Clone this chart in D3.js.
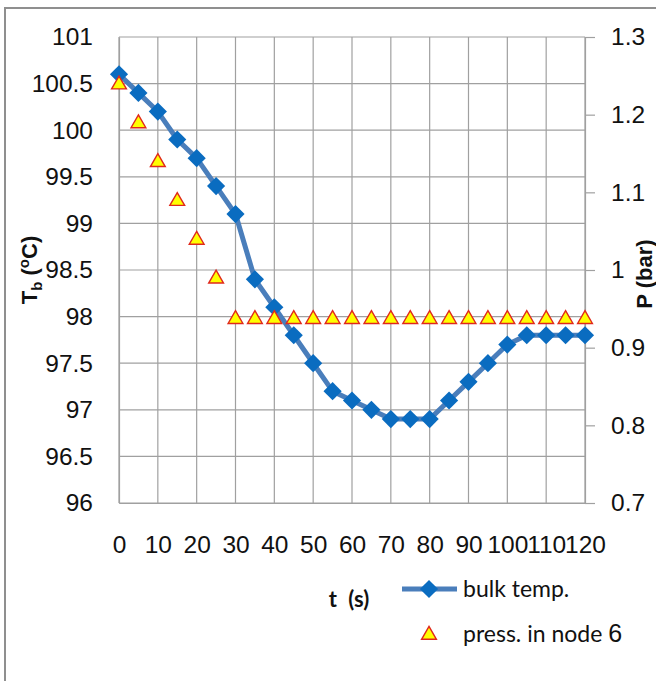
<!DOCTYPE html>
<html>
<head>
<meta charset="utf-8">
<script src="https://cdn.jsdelivr.net/npm/d3@7/dist/d3.min.js"></script>
<style>
  html, body { margin: 0; padding: 0; background: #fff; }
  svg { display: block; }
</style>
</head>
<body>
<svg id="chart" width="656" height="681"></svg>
<script>
// ---- data ----
const timeS = [0,5,10,15,20,25,30,35,40,45,50,55,60,65,70,75,80,85,90,95,100,105,110,115,120];
const bulkTemp = [100.6,100.4,100.2,99.9,99.7,99.4,99.1,98.4,98.1,97.8,97.5,97.2,97.1,97.0,96.9,96.9,96.9,97.1,97.3,97.5,97.7,97.8,97.8,97.8,97.8];
const pressNode6 = [1.24,1.19,1.14,1.09,1.04,0.99,0.938,0.938,0.938,0.938,0.938,0.938,0.938,0.938,0.938,0.938,0.938,0.938,0.938,0.938,0.938,0.938,0.938,0.938,0.938];
const xTicks = [0,10,20,30,40,50,60,70,80,90,100,110,120];
const leftTicks = [96,96.5,97,97.5,98,98.5,99,99.5,100,100.5,101];
const rightTicks = [0.7,0.8,0.9,1.0,1.1,1.2,1.3];
const seriesNames = ["bulk temp.", "press. in node 6"];

// ---- layout ----
const svg = d3.select("#chart");
const L = 119, R = 585, T = 37, B = 503;
const x = d3.scaleLinear().domain([0,120]).range([L,R]);
const yL = d3.scaleLinear().domain([96,101]).range([B,T]);
const yR = d3.scaleLinear().domain([0.7,1.3]).range([B,T]);

const gridColor = "#a0a0a0";
const lineColor = "#4a7ebb";
const markColor = "#0a6cc0";
const numFont = "'Liberation Sans', Arial, sans-serif";
const lblFont = "Lato, 'Open Sans', sans-serif";

// outer border
svg.append("rect").attr("x",5).attr("y",8).attr("width",700).attr("height",700)
  .attr("fill","none").attr("stroke","#8f8f8f").attr("stroke-width",2);

// gridlines
const grid = svg.append("g");
grid.selectAll("line.h").data(leftTicks).join("line")
  .attr("x1",L).attr("x2",R).attr("y1",d=>yL(d)).attr("y2",d=>yL(d))
  .attr("stroke",gridColor).attr("stroke-width",1.2);
grid.selectAll("line.v").data(xTicks).join("line")
  .attr("y1",T).attr("y2",B).attr("x1",d=>x(d)).attr("x2",d=>x(d))
  .attr("stroke",gridColor).attr("stroke-width",1.2);

// right axis with outward ticks
const rightAxis = d3.axisRight(yR).tickValues(rightTicks).tickSize(10).tickPadding(16)
  .tickFormat(d3.format("~g"));
const gR = svg.append("g").attr("transform",`translate(${R},0)`).call(rightAxis);
gR.select(".domain").attr("stroke",gridColor).attr("stroke-width",1.2);
gR.selectAll(".tick line").attr("stroke",gridColor).attr("stroke-width",1.2);
gR.selectAll(".tick text").attr("font-family",numFont).attr("font-size",24.5).attr("fill","#111");

// left axis labels
const leftAxis = d3.axisLeft(yL).tickValues(leftTicks).tickSize(0).tickPadding(26)
  .tickFormat(d3.format("~g"));
const gL = svg.append("g").attr("transform",`translate(${L},0)`).call(leftAxis);
gL.select(".domain").attr("stroke",gridColor).attr("stroke-width",1.2);
gL.selectAll(".tick text").attr("font-family",numFont).attr("font-size",24.5).attr("fill","#111");

// bottom axis labels
const bottomAxis = d3.axisBottom(x).tickValues(xTicks).tickSize(0).tickPadding(33)
  .tickFormat(d3.format("d"));
const gB = svg.append("g").attr("transform",`translate(0,${B})`).call(bottomAxis);
gB.select(".domain").attr("stroke",gridColor).attr("stroke-width",1.2);
gB.selectAll(".tick text").attr("font-family",numFont).attr("font-size",24.5).attr("fill","#111");

// bulk temp line
const data1 = timeS.map((t,i)=>({t, v:bulkTemp[i]}));
const data2 = timeS.map((t,i)=>({t, v:pressNode6[i]}));
svg.append("path").datum(data1)
  .attr("d", d3.line().x(d=>x(d.t)).y(d=>yL(d.v)))
  .attr("fill","none").attr("stroke",lineColor).attr("stroke-width",5)
  .attr("stroke-linejoin","round");

const diamond = d3.symbol().type(d3.symbolSquare).size(165);
svg.append("g").selectAll("path").data(data1).join("path")
  .attr("d", diamond)
  .attr("transform", d=>`translate(${x(d.t)},${yL(d.v)}) rotate(45)`)
  .attr("fill",markColor);

const tri = d3.symbol().type(d3.symbolTriangle).size(95);
svg.append("g").selectAll("path").data(data2).join("path")
  .attr("d", tri)
  .attr("transform", d=>`translate(${x(d.t)},${yR(d.v)+1})`)
  .attr("fill","#ffff00").attr("stroke","#e0281c").attr("stroke-width",1.4);

// axis titles
const tTitle = svg.append("text")
  .attr("transform","translate(37,270) rotate(-90)")
  .attr("text-anchor","middle")
  .attr("font-family",numFont).attr("font-weight","bold").attr("font-size",22).attr("fill","#111");
tTitle.append("tspan").text("T");
tTitle.append("tspan").attr("font-size",15).attr("dy",5).text("b");
tTitle.append("tspan").attr("dy",-5).text(" (");
tTitle.append("tspan").attr("font-size",15).attr("dy",-8).text("o");
tTitle.append("tspan").attr("dy",8).text("C)");

svg.append("text")
  .attr("transform","translate(652,274) rotate(-90)")
  .attr("text-anchor","middle")
  .attr("font-family",numFont).attr("font-weight","bold").attr("font-size",22).attr("fill","#111")
  .text("P (bar)");

svg.append("text")
  .attr("x",349).attr("y",607).attr("text-anchor","middle")
  .attr("font-family",lblFont).attr("font-weight","bold").attr("font-size",22)
  .attr("word-spacing",6).attr("fill","#111")
  .text("t (s)");

// legend
const lg = svg.append("g");
lg.append("line").attr("x1",402).attr("x2",457).attr("y1",589).attr("y2",589)
  .attr("stroke",lineColor).attr("stroke-width",5);
lg.append("path").attr("d",diamond).attr("transform","translate(429,589) rotate(45)").attr("fill",markColor);
lg.append("text").attr("x",463).attr("y",597)
  .attr("font-family",lblFont).attr("font-size",23).attr("fill","#111").text(seriesNames[0]);
lg.append("path").attr("d",tri).attr("transform","translate(429,635)")
  .attr("fill","#ffff00").attr("stroke","#e0281c").attr("stroke-width",1.4);
const t2 = lg.append("text").attr("x",463).attr("y",642)
  .attr("font-family",lblFont).attr("font-size",23).attr("fill","#111");
t2.append("tspan").text("press. in node ");
t2.append("tspan").attr("font-family",numFont).attr("font-size",25).text("6");
</script>
</body>
</html>
